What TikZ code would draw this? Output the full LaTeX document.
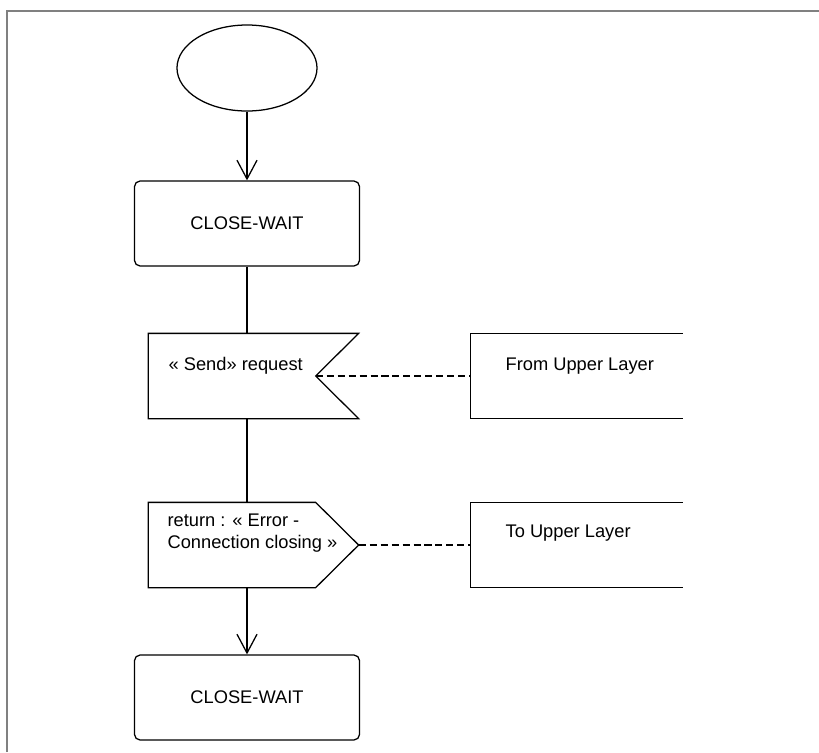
\documentclass[tikz,border=0pt]{standalone}
\usepackage{fontspec}
\setmainfont{Liberation Sans}
\usetikzlibrary{shapes.geometric,arrows.meta,calc}

\begin{document}
\begin{tikzpicture}[x=0.025cm,y=-0.025cm,line width=0.9pt,font=\fontsize{13}{15.6}\selectfont]
\tikzstyle{st}=[draw, rounded corners=4pt, minimum width=5.625cm, minimum height=2.125cm, inner sep=0pt]
\tikzstyle{sig}=[minimum width=5.225cm, minimum height=2.1cm, inner sep=0pt]
\tikzstyle{ext}=[minimum width=5.275cm, minimum height=2.1cm, inner sep=0pt]
\tikzstyle{lbl}=[anchor=west, inner sep=0pt, align=left]
\tikzstyle{dsh}=[dash pattern=on 5pt off 2.8pt]
\tikzstyle{arr}=[-{Straight Barb[length=0.47cm,width=0.5cm]}]
\useasboundingbox (0,0) rectangle (819,752);
\draw[gray, line width=1.6pt] (7,752) -- (7,11) -- (819,11);
\node[draw, ellipse, minimum width=3.5cm, minimum height=2.15cm] (start) at (247,68) {};
\node[st] (wait1) at (247,223.5) {CLOSE-WAIT};
\node[sig] (send) at (253.5,376) {};
\node[sig] (ret) at (253.5,545) {};
\node[ext] (from) at (576.5,376) {};
\node[ext] (to) at (576.5,545) {};
\node[st] (wait2) at (247,697.5) {CLOSE-WAIT};
\draw (send.north west) -- (send.north east) -- ($(send.east)+(-43,0)$) coordinate (notch)
	-- (send.south east) -- (send.south west) -- cycle;
\draw (ret.north west) -- ($(ret.north east)+(-43,0)$) -- (ret.east)
	-- ($(ret.south east)+(-43,0)$) -- (ret.south west) -- cycle;
\foreach \b in {from,to}{
	\draw (\b.north east) -- (\b.north west) -- (\b.south west) -- (\b.south east);}
\node[lbl] (sendtxt) at (168,366) {« Send» request};
\node[lbl] (rettxt) at (167,533) {return : « Error -\\Connection closing »};
\node[lbl] (fromtxt) at (505,366) {From Upper Layer};
\node[lbl] (totxt) at (505,533) {To Upper Layer};
\draw[arr] (start.south) -- (wait1.north);
\draw (wait1.south) -- (wait1.south |- send.north);
\draw (wait1.south |- send.south) -- (wait1.south |- ret.north);
\draw[arr] (wait1.south |- ret.south) -- (wait2.north);
\draw[dsh] (notch) -- (from.west);
\draw[dsh] (ret.east) -- (to.west);
\end{tikzpicture}
\end{document}
